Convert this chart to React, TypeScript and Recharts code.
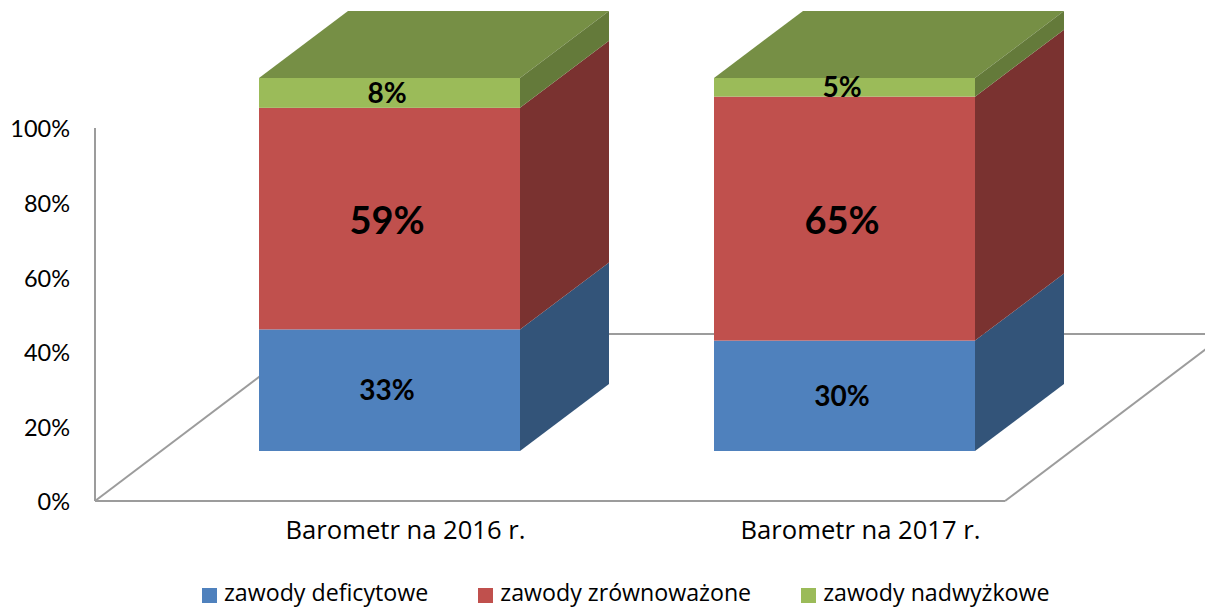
import React from "react";
import {
  BarChart,
  Bar,
  XAxis,
  YAxis,
  Legend,
  LabelList,
  usePlotArea,
} from "recharts";

const categories = ["Barometr na 2016 r.", "Barometr na 2017 r."];
const deficytowe = [32.6, 29.6];
const zrownowazone = [59.4, 65.4];
const nadwyzkowe = [8, 5];
const yTicks = [0, 20, 40, 60, 80, 100];

const chartData = categories.map((name, i) => ({
  name,
  deficytowe: deficytowe[i],
  zrownowazone: zrownowazone[i],
  nadwyzkowe: nadwyzkowe[i],
}));

const FONT = "Lato, sans-serif";
const WIDE_FONT = "'Open Sans', sans-serif";
const GRID = "#9C9C9C";

// przesuniecie slupka wzgledem kategorii i glebokosc "3D"
const SHIFT_X = 67;
const SHIFT_Y = -50;
const DEPTH_X = 89;
const DEPTH_Y = 67;

const SIDE_BLUE = "#335479";
const SIDE_RED = "#7A3230";
const SIDE_GREEN = "#647A3A";
const TOP_GREEN = "#768F45";

const box3d = (sideFill: string, topFill?: string) => (props: any) => {
  const { x, y, width, height, fill } = props;
  const left = x + SHIFT_X;
  const top = y + SHIFT_Y;
  const right = left + width;
  return (
    <g>
      {topFill && (
        <polygon
          fill={topFill}
          points={`${left},${top} ${right},${top} ${right + DEPTH_X},${top - DEPTH_Y} ${left + DEPTH_X},${top - DEPTH_Y}`}
        />
      )}
      <polygon
        fill={sideFill}
        points={`${right},${top} ${right + DEPTH_X},${top - DEPTH_Y} ${right + DEPTH_X},${top + height - DEPTH_Y} ${right},${top + height}`}
      />
      <rect x={left} y={top} width={width} height={height} fill={fill} />
    </g>
  );
};

const percentLabel = (fontSize: number, dy: number) => (props: any) => {
  const { x, y, width, height, value } = props;
  return (
    <text
      x={x + width / 2 + SHIFT_X - 2.5}
      y={y + height / 2 + SHIFT_Y + dy}
      dy="0.35em"
      textAnchor="middle"
      fontFamily={FONT}
      fontWeight={700}
      fontSize={fontSize}
      fill="#000"
    >
      {`${Math.round(value)}%`}
    </text>
  );
};

const FloorLines = () => {
  const plot = usePlotArea();
  if (!plot) return null;
  const bottom = plot.y + plot.height;
  const right = plot.x + plot.width;
  const backY = bottom - 167;
  const backX = 221;
  return (
    <g stroke={GRID} strokeWidth={2} fill="none">
      <line x1={plot.x} y1={bottom} x2={plot.x + backX} y2={backY} />
      <line x1={right} y1={bottom} x2={right + backX} y2={backY} />
      <line x1={plot.x + backX} y1={backY} x2={right + backX} y2={backY} />
    </g>
  );
};

const LegendRow = ({ payload }: any) => (
  <div style={{ display: "flex", alignItems: "center", fontFamily: WIDE_FONT, fontSize: 23.2, color: "#000", lineHeight: "24px", whiteSpace: "nowrap" }}>
    {(payload || []).map((item: any) => (
      <span key={item.value} style={{ display: "flex", alignItems: "center", marginRight: 50 }}>
        <span style={{ width: 15, height: 15, background: item.color, marginRight: 7, position: "relative", top: 3 }} />
        {item.value}
      </span>
    ))}
  </div>
);

export default function App() {
  return (
    <div style={{ width: 1205, height: 608, overflow: "hidden" }}>
      <style>{"body{margin:0}"}</style>
      <BarChart
        width={1205}
        height={608}
        data={chartData}
        margin={{ top: 128, right: 200, bottom: 0, left: 0 }}
        barSize={261}
      >
        <FloorLines />
        <YAxis
          width={95}
          domain={[0, 100]}
          ticks={yTicks}
          tickFormatter={(v) => `${v}%`}
          tickLine={false}
          tickSize={0}
          tickMargin={25}
          axisLine={{ stroke: GRID, strokeWidth: 2 }}
          tick={{ fontFamily: FONT, fontSize: 23.5, fill: "#000", dy: 1 }}
        />
        <XAxis
          dataKey="name"
          height={107}
          tickLine={false}
          tickSize={0}
          tickMargin={20}
          axisLine={{ stroke: GRID, strokeWidth: 2 }}
          tick={{ fontFamily: WIDE_FONT, fontSize: 25.6, fill: "#000", dx: 83 }}
        />
        <Legend
          verticalAlign="middle"
          align="center"
          itemSorter={null}
          content={<LegendRow />}
          wrapperStyle={{ left: 202, top: 580, width: 1000 }}
        />
        <Bar
          dataKey="deficytowe"
          name="zawody deficytowe"
          stackId="a"
          fill="#4F81BD"
          shape={box3d(SIDE_BLUE)}
          isAnimationActive={false}
        >
          <LabelList dataKey="deficytowe" content={percentLabel(28, 0)} />
        </Bar>
        <Bar
          dataKey="zrownowazone"
          name="zawody zrównoważone"
          stackId="a"
          fill="#C0504D"
          shape={box3d(SIDE_RED)}
          isAnimationActive={false}
        >
          <LabelList dataKey="zrownowazone" content={percentLabel(38, 2)} />
        </Bar>
        <Bar
          dataKey="nadwyzkowe"
          name="zawody nadwyżkowe"
          stackId="a"
          fill="#9BBB59"
          shape={box3d(SIDE_GREEN, TOP_GREEN)}
          isAnimationActive={false}
        >
          <LabelList dataKey="nadwyzkowe" content={percentLabel(28, 0)} />
        </Bar>
      </BarChart>
    </div>
  );
}
